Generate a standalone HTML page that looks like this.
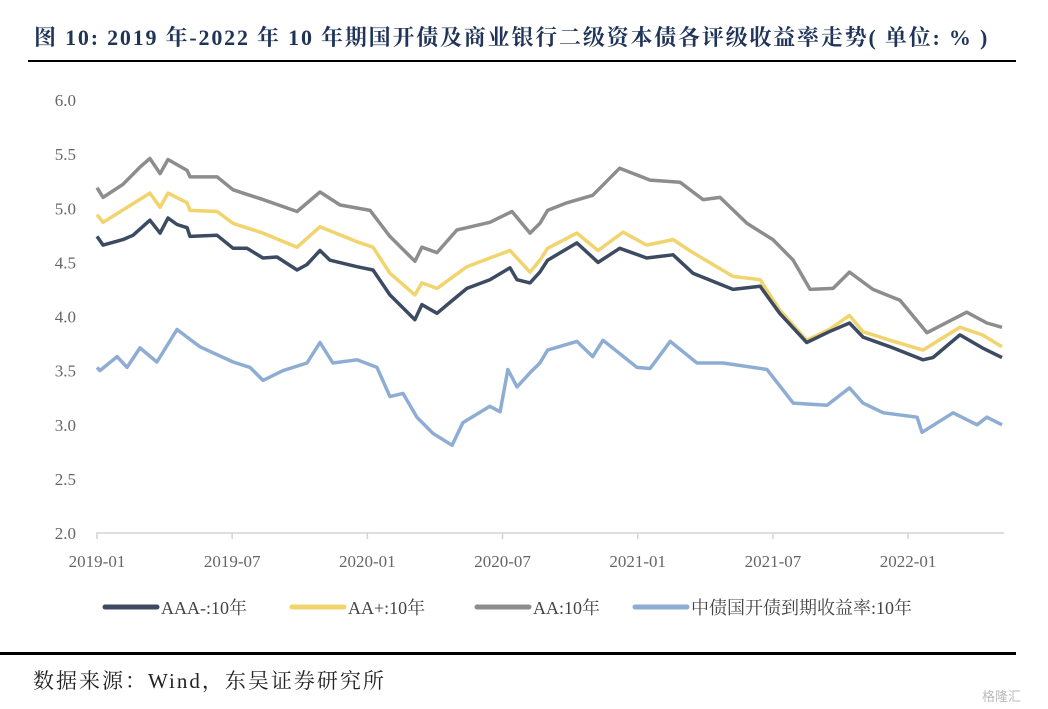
<!DOCTYPE html>
<html><head><meta charset="utf-8"><style>
body{margin:0;background:#fff;width:1048px;height:709px;overflow:hidden;position:relative;font-family:"Liberation Serif","Noto Serif CJK SC",serif}
</style></head><body>
<div style="position:absolute;left:34px;top:21px;font-size:22px;font-weight:bold;color:#1f3458;white-space:nowrap;letter-spacing:1.8px">图 10: 2019 年-2022 年 10 年期国开债及商业银行二级资本债各评级收益率走势( 单位: % )</div>
<div style="position:absolute;left:28px;top:60px;width:988px;height:2px;background:#000"></div>
<svg id="chart" width="1048" height="709" style="position:absolute;left:0;top:0"></svg>
<div style="position:absolute;left:0;top:652px;width:1016px;height:3px;background:#000"></div>
<div style="position:absolute;left:33px;top:665px;font-size:21px;letter-spacing:2px;color:#222;white-space:nowrap">数据来源：Wind，东吴证券研究所</div>
<div style="position:absolute;left:982px;top:686px;font-size:13px;color:#bbb;font-family:'Liberation Sans','Noto Sans CJK SC',sans-serif">格隆汇</div>
<script>
const yTicks=[2.0,2.5,3.0,3.5,4.0,4.5,5.0,5.5,6.0];
const xTickLabels=["2019-01","2019-07","2020-01","2020-07","2021-01","2021-07","2022-01"];
const xTickMonths=[0,6,12,18,24,30,36];
const seriesNames=["AAA-:10年","AA+:10年","AA:10年","中债国开债到期收益率:10年"];
const aaaMonths=[0,0.27,1.15,1.6,2.35,2.8,3.15,3.55,4.0,4.13,5.33,6.04,6.66,7.37,7.99,8.88,9.32,9.9,10.34,11.54,12.25,13.0,14.11,14.42,15.09,15.67,16.42,17.44,18.33,18.64,19.22,19.66,20.0,21.3,22.24,23.2,24.4,25.57,26.45,28.23,29.43,30.3,31.5,32.5,33.4,34.0,35.2,36.66,37.1,38.3,39.3,40.17];
const aaaValues=[4.74,4.66,4.71,4.75,4.89,4.77,4.91,4.85,4.82,4.74,4.75,4.63,4.63,4.54,4.55,4.43,4.48,4.61,4.52,4.46,4.43,4.20,3.97,4.11,4.03,4.13,4.26,4.34,4.45,4.34,4.31,4.41,4.52,4.68,4.50,4.63,4.54,4.57,4.40,4.25,4.28,4.03,3.76,3.86,3.94,3.81,3.72,3.60,3.62,3.83,3.71,3.62];
const aapMonths=[0,0.27,2.35,2.8,3.15,4.0,4.13,5.33,6.04,7.37,8.88,9.9,11.54,12.25,13.0,14.11,14.42,15.09,16.42,17.44,18.33,19.22,19.66,20.0,21.3,22.24,23.35,24.4,25.57,26.45,28.23,29.43,30.3,31.5,32.5,33.4,34.0,35.2,36.66,38.3,39.3,40.17];
const aapValues=[4.94,4.87,5.14,5.01,5.14,5.05,4.98,4.97,4.86,4.77,4.64,4.83,4.69,4.64,4.40,4.20,4.31,4.26,4.46,4.54,4.61,4.41,4.52,4.63,4.77,4.61,4.78,4.66,4.71,4.59,4.37,4.34,4.06,3.78,3.88,4.01,3.86,3.78,3.69,3.90,3.83,3.72];
const aaMonths=[0,0.27,1.15,1.91,2.35,2.8,3.15,4.0,4.13,5.33,6.04,7.37,8.88,9.9,10.79,12.12,13.0,14.11,14.42,15.09,15.98,17.44,18.42,19.22,19.66,20.0,20.86,22.0,23.2,24.55,25.88,26.9,27.65,28.85,30.0,30.9,31.65,32.67,33.4,34.44,35.64,36.84,38.6,39.5,40.17];
const aaValues=[5.19,5.10,5.22,5.38,5.46,5.32,5.45,5.35,5.29,5.29,5.17,5.08,4.97,5.15,5.03,4.98,4.74,4.51,4.64,4.59,4.80,4.87,4.97,4.77,4.86,4.98,5.05,5.12,5.37,5.26,5.24,5.08,5.10,4.86,4.71,4.52,4.25,4.26,4.41,4.25,4.15,3.85,4.04,3.94,3.90];
const cdbMonths=[0,0.13,0.89,1.33,1.91,2.66,3.55,4.0,4.57,6.04,6.79,7.37,8.26,9.32,9.9,10.47,11.54,12.43,13.0,13.58,14.2,14.91,15.76,16.24,17.44,17.89,18.24,18.64,19.22,19.66,20.0,21.3,22.0,22.46,23.97,24.55,25.44,26.63,27.79,29.74,30.9,32.4,33.4,34.0,34.9,36.4,36.62,38.0,39.06,39.5,40.17];
const cdbValues=[3.53,3.50,3.63,3.53,3.71,3.58,3.88,3.81,3.72,3.58,3.53,3.41,3.50,3.57,3.76,3.57,3.60,3.53,3.26,3.29,3.07,2.92,2.81,3.02,3.17,3.12,3.51,3.35,3.48,3.57,3.69,3.77,3.63,3.78,3.53,3.52,3.77,3.57,3.57,3.51,3.20,3.18,3.34,3.20,3.11,3.07,2.93,3.11,3.00,3.07,3.00];

const svg=document.getElementById('chart');
const NS='http://www.w3.org/2000/svg';
const X0=97,PXM=22.53,Y0=533,PXU=108.25;
function xs(m){return X0+m*PXM;}
function ys(v){return Y0-(v-2)*PXU;}
function mk(t,a){const e=document.createElementNS(NS,t);for(const k in a)e.setAttribute(k,a[k]);svg.appendChild(e);return e;}

yTicks.forEach(v=>{
  const t=mk('text',{x:76,y:ys(v)+6,'text-anchor':'end','font-size':17,fill:'#666','font-family':'Liberation Serif,serif'});
  t.textContent=v.toFixed(1);
  
  
});
const ax=mk('line',{x1:X0-1,y1:Y0,x2:1004,y2:Y0,stroke:'#d4d4d4','stroke-width':1.5});


xTickMonths.forEach((m,i)=>{
  const tk=mk('line',{x1:xs(m),y1:Y0,x2:xs(m),y2:Y0+6,stroke:'#d4d4d4','stroke-width':1.5});
  
  
  const t=mk('text',{x:xs(m),y:Y0+34,'text-anchor':'middle','font-size':17,fill:'#666','font-family':'Liberation Serif,serif'});
  t.textContent=xTickLabels[i];
  
  
});
const series=[[aaMonths,aaValues,'#8d8d8d'],[cdbMonths,cdbValues,'#8eadd3'],[aapMonths,aapValues,'#f1d46d'],[aaaMonths,aaaValues,'#3c4b62']];
const names=['series-aa','series-cdb','series-aa-plus','series-aaa-minus'];
series.forEach((s,i)=>{
  const d=s[0].map((m,j)=>(j?'L':'M')+xs(m).toFixed(1)+','+ys(s[1][j]).toFixed(1)).join('');
  const p=mk('path',{d:d,fill:'none',stroke:s[2],'stroke-width':3.5,'stroke-linejoin':'round'});
  
  
});
const legX=[105,292,477,635],legC=['#3c4b62','#f1d46d','#8d8d8d','#8eadd3'];
seriesNames.forEach((n,i)=>{
  const l=mk('line',{x1:legX[i],y1:607,x2:legX[i]+52,y2:607,stroke:legC[i],'stroke-width':5,'stroke-linecap':'round'});
  
  
  const t=mk('text',{x:legX[i]+56,y:614,'font-size':18,fill:'#444','font-family':'Liberation Serif,Noto Serif CJK SC,serif'});
  t.textContent=n;
  
  
});
</script>
</body></html>
